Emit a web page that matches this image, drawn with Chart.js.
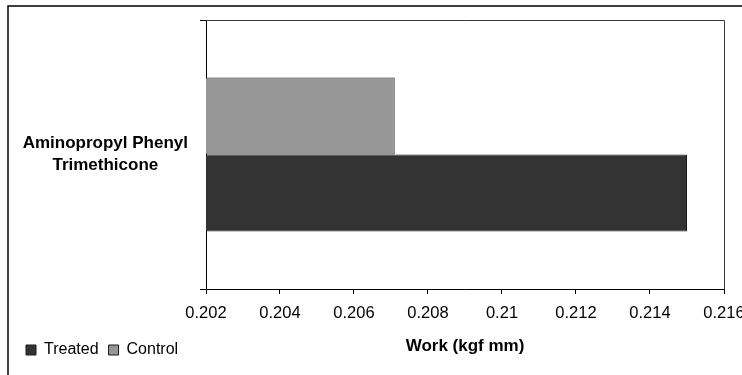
<!DOCTYPE html>
<html>
<head>
<meta charset="utf-8">
<script src="https://cdn.jsdelivr.net/npm/chart.js@4.4.0/dist/chart.umd.min.js"></script>
<style>
  html, body { margin: 0; padding: 0; background: #fff; overflow: hidden; }
  #wrap { position: absolute; left: 0; top: 0; width: 742px; height: 375px; overflow: hidden; }
  #workChart { display: block; }
</style>
</head>
<body>
<div id="wrap"><canvas id="workChart" width="750" height="375"></canvas></div>
<script>
// data
const categories = [["Aminopropyl Phenyl", "Trimethicone"]];
const controlValues = [0.2071];
const treatedValues = [0.2150];
const xTicks = [0.202, 0.204, 0.206, 0.208, 0.21, 0.212, 0.214, 0.216];

// outer frame + top/right edge of the plot area
const framePlugin = {
  id: "frame",
  beforeDraw(chart) {
    const ctx = chart.ctx;
    ctx.save();
    ctx.strokeStyle = "#000";
    ctx.lineWidth = 1.5;
    ctx.strokeRect(8, 6, 900, 500);
    ctx.restore();
  },
  afterDraw(chart) {
    const { ctx, chartArea } = chart;
    ctx.save();
    ctx.strokeStyle = "#3a3a3a";
    ctx.lineWidth = 1;
    ctx.beginPath();
    ctx.moveTo(chartArea.left, chartArea.top + 0.5);
    ctx.lineTo(chartArea.right + 0.5, chartArea.top + 0.5);
    ctx.lineTo(chartArea.right + 0.5, chartArea.bottom);
    ctx.stroke();
    ctx.restore();
  },
};

const ctx = document.getElementById("workChart").getContext("2d");
new Chart(ctx, {
  type: "bar",
  data: {
    labels: categories,
    datasets: [
      {
        label: "Control",
        data: controlValues,
        backgroundColor: "#979797",
        borderColor: "#1a1a1a",
        borderWidth: 1,
        borderSkipped: false,
      },
      {
        label: "Treated",
        data: treatedValues,
        backgroundColor: "#333333",
        borderColor: "#1a1a1a",
        borderWidth: 1,
        borderSkipped: false,
      },
    ],
  },
  options: {
    indexAxis: "y",
    responsive: false,
    animation: false,
    categoryPercentage: 0.5725,
    barPercentage: 1,
    layout: { padding: { left: 16, top: 20, right: 26, bottom: 7 } },
    plugins: {
      tooltip: { enabled: false },
      legend: {
        position: "bottom",
        align: "start",
        reverse: true,
        labels: {
          boxWidth: 10,
          boxHeight: 10,
          padding: 10,
          color: "#000",
          font: { family: "'Liberation Sans', Arial, sans-serif", size: 16 },
        },
      },
    },
    scales: {
      x: {
        min: 0.202,
        max: 0.216,
        afterBuildTicks: (scale) => {
          scale.ticks = xTicks.map((v) => ({ value: v }));
        },
        afterFit: (scale) => {
          scale.height = 43;
          scale.paddingRight = 0;
        },
        ticks: {
          padding: 10,
          color: "#000",
          font: { family: "'Liberation Sans', Arial, sans-serif", size: 16.5 },
          callback: (v) => String(Number(Number(v).toFixed(3))),
        },
        grid: {
          drawOnChartArea: false,
          drawTicks: true,
          tickLength: 5,
          tickColor: "#000",
        },
        border: { display: true, color: "#000", width: 1 },
        title: {
          display: true,
          text: "Work (kgf mm)",
          color: "#000",
          padding: { top: 0, bottom: -25 },
          font: { family: "'Liberation Sans', Arial, sans-serif", size: 17, weight: "bold" },
        },
      },
      y: {
        afterFit: (scale) => {
          scale.width = 190;
          scale.paddingTop = 0;
          scale.paddingBottom = 0;
        },
        ticks: {
          crossAlign: "center",
          padding: 12,
          color: "#000",
          font: { family: "'Liberation Sans', Arial, sans-serif", size: 17, weight: "bold", lineHeight: 1.3 },
        },
        grid: {
          offset: true,
          drawOnChartArea: false,
          drawTicks: true,
          tickLength: 6,
          tickColor: "#000",
        },
        border: { display: true, color: "#000", width: 1 },
      },
    },
  },
  plugins: [framePlugin],
});
</script>
</body>
</html>
